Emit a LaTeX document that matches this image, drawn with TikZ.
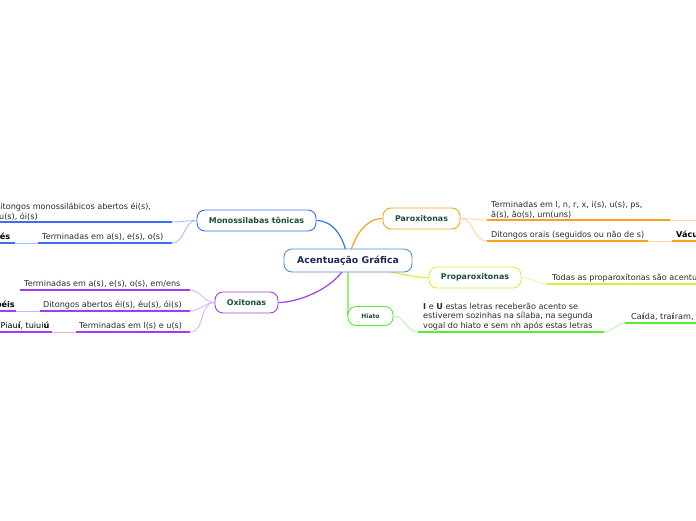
\documentclass[tikz,border=0pt]{standalone}
\usepackage{fontspec}
\setmainfont{DejaVu Sans}
\usetikzlibrary{backgrounds}
\definecolor{monoC}{HTML}{3A6FF0}
\definecolor{monoL}{HTML}{A3BEF8}
\definecolor{oxiC}{HTML}{A23CF0}
\definecolor{oxiL}{HTML}{DCB0FA}
\definecolor{paroC}{HTML}{F7A21B}
\definecolor{paroL}{HTML}{FBD698}
\definecolor{propC}{HTML}{D4F03A}
\definecolor{propL}{HTML}{EAF8A6}
\definecolor{hiaC}{HTML}{55EE33}
\definecolor{hiaL}{HTML}{B8F6AA}
\definecolor{centC}{HTML}{4A8FD8}
\definecolor{centT}{HTML}{1B2A50}
\definecolor{nodeT}{HTML}{1D4D3D}
\definecolor{leafT}{HTML}{2A2A2A}
\begin{document}
\begin{tikzpicture}[x=1pt,y=-1pt,
  topic/.style={draw, rounded corners=8pt, fill=white, line width=0.9pt,
    font=\bfseries\fontsize{7.9}{9}\selectfont, text=nodeT, inner sep=0pt,
    minimum height=21pt},
  leaf/.style={anchor=base west, inner sep=0pt, font=\fontsize{8.1}{9.7}\selectfont,
    text=leafT, align=left},
  bleaf/.style={leaf, font=\bfseries\fontsize{8.1}{9.7}\selectfont, text=black},
  ul/.style={line width=1.8pt},
  lc/.style={line width=0.9pt},
  mc/.style={line width=1.2pt}]
\useasboundingbox (0,0) rectangle (696,520);
\clip (0,0) rectangle (696,520);

% central and topics
\node[topic, draw=centC, text=centT, font=\bfseries\fontsize{9.3}{11}\selectfont,
  minimum width=128pt, minimum height=23pt] (c) at (348,260.5) {Acentuação Gráfica};
\node[topic, draw=monoC, minimum width=119pt] (m) at (256.5,220.5) {Monossilabas tônicas};
\node[topic, draw=oxiC, minimum width=63pt] (o) at (246.5,302.5) {Oxitonas};
\node[topic, draw=paroC, minimum width=77pt] (p) at (421.5,218.5) {Paroxitonas};
\node[topic, draw=propC, minimum width=92pt] (pp) at (475,277.5) {Proparoxitonas};
\node[topic, draw=hiaC, minimum width=45pt, minimum height=19pt,
  font=\bfseries\fontsize{6}{7}\selectfont] (h) at (370.5,316) {Hiato};

\begin{scope}[on background layer]
\draw[mc, monoC] (c.center) .. controls (344,235) and (332,220.5) .. (m.east);
\draw[mc, paroC] (c.center) .. controls (354,235) and (366,218.5) .. (p.west);
\draw[mc, oxiC] (c.center) .. controls (340,286) and (300,302.5) .. (o.east);
\draw[mc, propC] (c.center) .. controls (400,275) and (415,277.5) .. (pp.west);
\draw[mc, hiaC] (c.center) .. controls (348,300) and (348,316) .. (h.west);
\end{scope}

% Monossilabas leaves
\coordinate (m1a) at (-5,222); \coordinate (m1b) at (172,222);
\node[leaf, anchor=south west] (m1) at (-6,220.5) {Ditongos monossilábicos abertos éi(s),\\éu(s), ói(s)};
\draw[ul, monoC] (m1a) -- (m1b);
\draw[lc, monoL] (m.west) to[out=180,in=0] (m1b);
\coordinate (m2a) at (38,243); \coordinate (m2b) at (172,243);
\node[leaf] (m2) at (42,239.5) {Terminadas em a(s), e(s), o(s)};
\draw[ul, monoC] (m2a) -- (m2b);
\draw[lc, monoL] (m.west) to[out=180,in=0] (m2b);
\coordinate (m2ca) at (-20,243); \coordinate (m2cb) at (15,243);
\node[bleaf, anchor=base east] (m2c) at (10.5,239.5) {pés};
\draw[ul, monoC] (m2ca) -- (m2cb);
\draw[lc, monoL] (m2cb) -- (m2a);

% Oxitonas leaves
\coordinate (o1a) at (20,290); \coordinate (o1b) at (190,290);
\node[leaf] (o1) at (24,286.5) {Terminadas em a(s), e(s), o(s), em/ens};
\draw[ul, oxiC] (o1a) -- (o1b);
\draw[lc, oxiL] (o.west) to[out=180,in=0] (o1b);
\coordinate (o2a) at (40,311); \coordinate (o2b) at (190,311);
\node[leaf] (o2) at (43,307.5) {Ditongos abertos éi(s), éu(s), ói(s)};
\draw[ul, oxiC] (o2a) -- (o2b);
\draw[lc, oxiL] (o.west) to[out=180,in=0] (o2b);
\coordinate (o2ca) at (-30,311); \coordinate (o2cb) at (16,311);
\node[bleaf, anchor=base east] (o2c) at (15,307.5) {papéis};
\draw[ul, oxiC] (o2ca) -- (o2cb);
\draw[lc, oxiL] (o2cb) -- (o2a);
\coordinate (o3a) at (76,332); \coordinate (o3b) at (190,332);
\node[leaf] (o3) at (79,328.5) {Terminadas em l(s) e u(s)};
\draw[ul, oxiC] (o3a) -- (o3b);
\draw[lc, oxiL] (o.west) to[out=180,in=0] (o3b);
\coordinate (o3ca) at (-5,332); \coordinate (o3cb) at (52,332);
\node[leaf, text=black] (o3c) at (0.5,328.5) {Piau\textbf{í}, tuiui\textbf{ú}};
\draw[ul, oxiC] (o3ca) -- (o3cb);
\draw[lc, oxiL] (o3cb) -- (o3a);

% Paroxitonas leaves
\coordinate (p1a) at (487,220); \coordinate (p1b) at (670,220); \coordinate (p1c) at (700,220);
\node[leaf, anchor=south west] (p1) at (491,218.5) {Terminadas em l, n, r, x, i(s), u(s), ps,\\ã(s), ão(s), um(uns)};
\draw[ul, paroC] (p1a) -- (p1b);
\draw[lc, paroL] (p1b) -- (p1c);
\draw[lc, paroL] (p.east) to[out=0,in=180] (p1a);
\coordinate (p2a) at (487,241); \coordinate (p2b) at (648,241);
\node[leaf] (p2) at (491,237.5) {Ditongos orais (seguidos ou não de s)};
\draw[ul, paroC] (p2a) -- (p2b);
\draw[lc, paroL] (p.east) to[out=0,in=180] (p2a);
\coordinate (p2ca) at (672,241); \coordinate (p2cb) at (720,241);
\node[bleaf] (p2c) at (676,237.5) {Vácuo};
\draw[ul, paroC] (p2ca) -- (p2cb);
\draw[lc, paroL] (p2b) -- (p2ca);

% Proparoxitonas leaf
\coordinate (q1a) at (547,284); \coordinate (q1b) at (720,284);
\node[leaf] (q1) at (552,280.5) {Todas as proparoxítonas são acentuadas};
\draw[ul, propC] (q1a) -- (q1b);
\draw[lc, propL] (pp.east) to[out=0,in=180] (q1a);

% Hiato leaves
\coordinate (h1a) at (418,332); \coordinate (h1b) at (604,332);
\node[leaf, anchor=south west] (h1) at (423,330.5) {\textbf{I} e \textbf{U} estas letras receberão acento se\\estiverem sozinhas na sílaba, na segunda\\vogal do hiato e sem nh após estas letras};
\draw[ul, hiaC] (h1a) -- (h1b);
\draw[lc, hiaL] (h.east) to[out=0,in=180] (h1a);
\coordinate (h2a) at (625,323); \coordinate (h2b) at (720,323);
\node[leaf] (h2) at (631,319.5) {Ca\textbf{í}da, tra\textbf{í}ram, saúde};
\draw[ul, hiaC] (h2a) -- (h2b);
\draw[lc, hiaL] (h1b) to[out=0,in=180] (h2a);
\end{tikzpicture}
\end{document}
